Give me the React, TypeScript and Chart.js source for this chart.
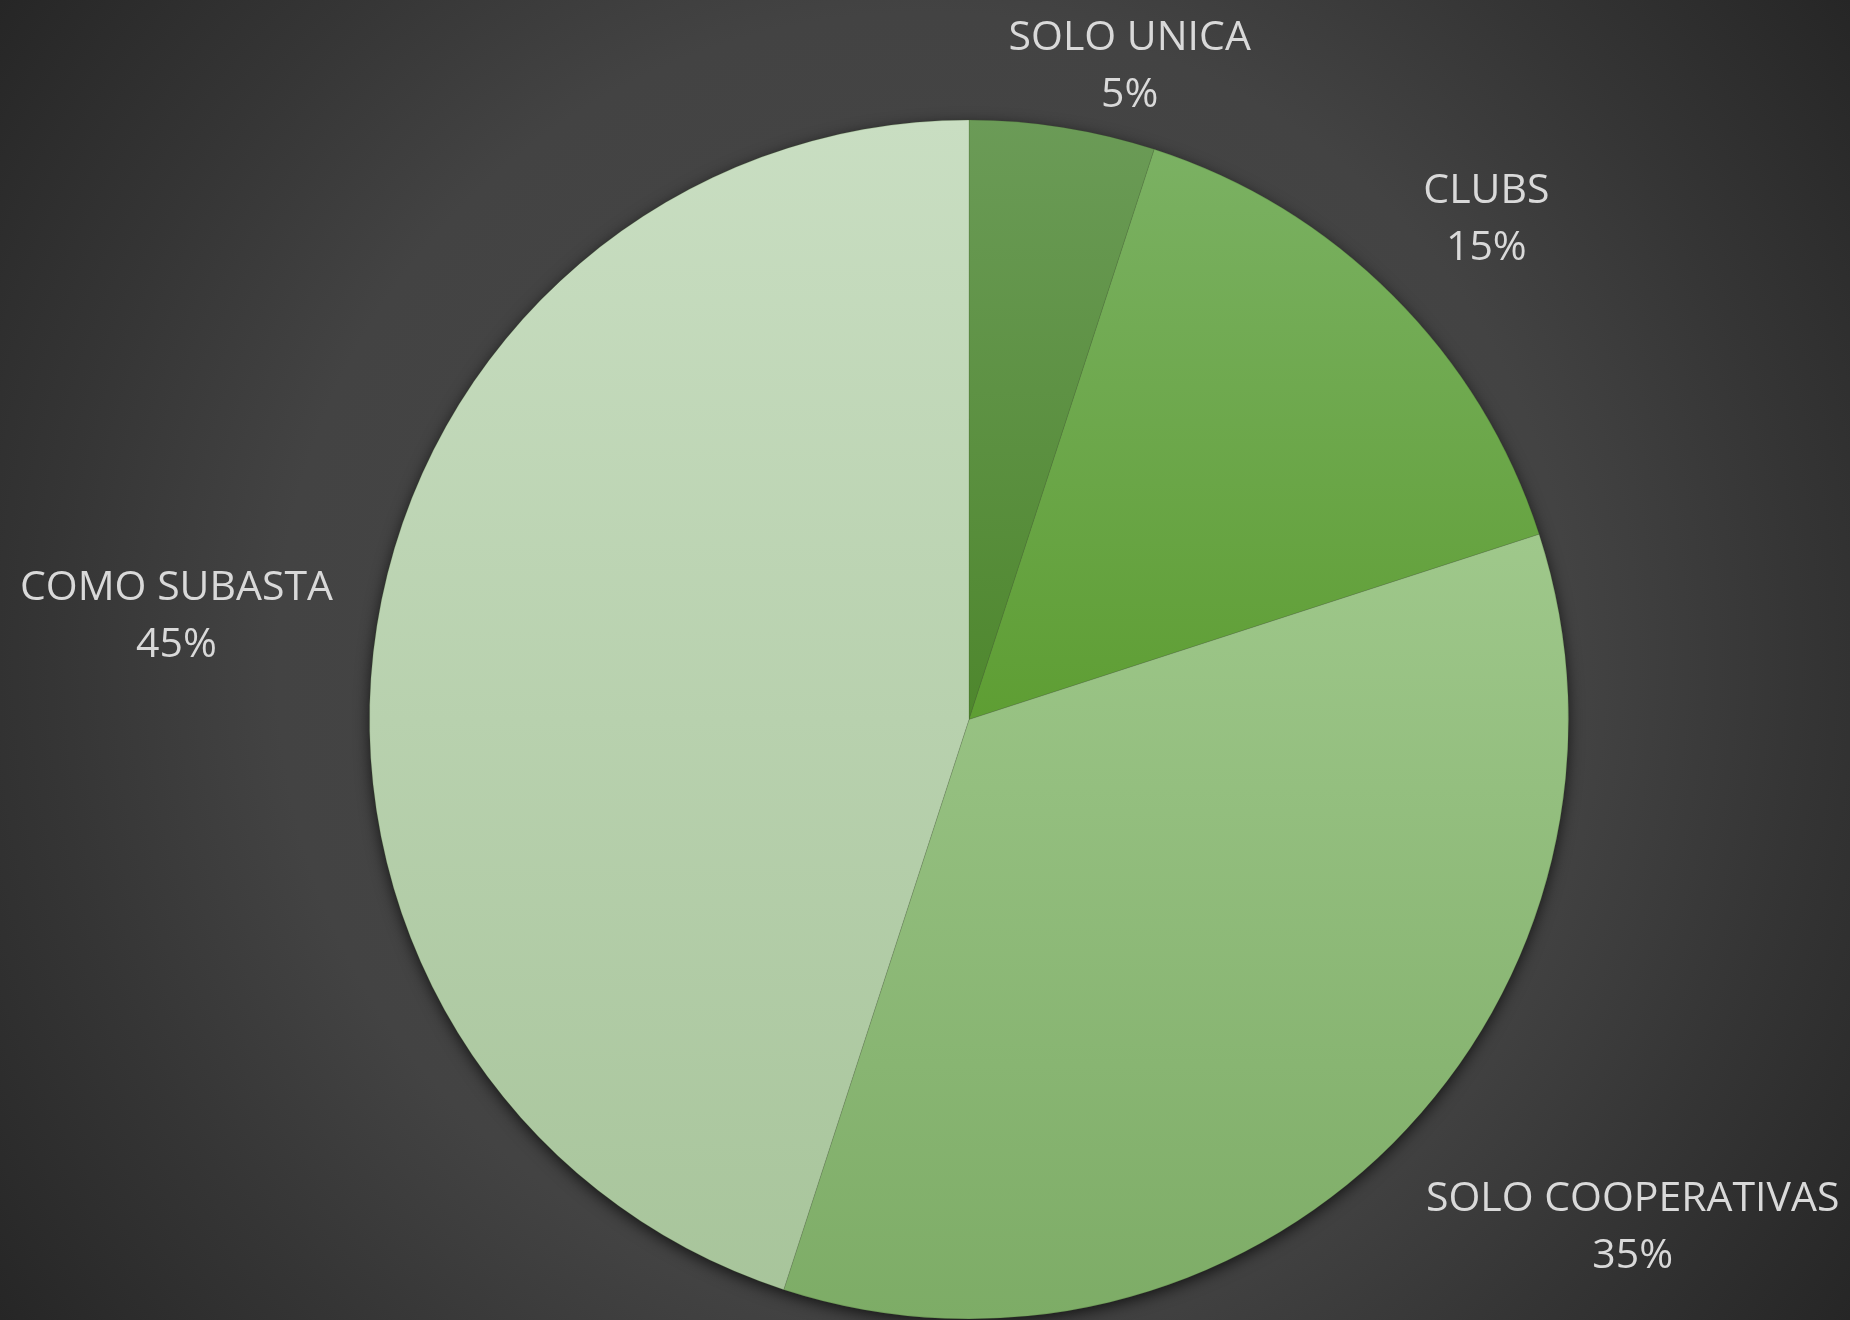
import React, { useEffect, useRef } from "react";
import { Chart, registerables } from "chart.js";

Chart.register(...registerables);

const categories = ["SOLO UNICA", "CLUBS", "SOLO COOPERATIVAS", "COMO SUBASTA"];
const shares = [5, 15, 35, 45];

// gradient colours per slice: [top, bottom] and vertical extent in radius units
const sliceTopColors = ["#6b9b57", "#7bb163", "#9fc88b", "#c9dec2"];
const sliceBottomColors = ["#4e872d", "#5e9e33", "#7dac66", "#a7c49a"];
const sliceGradTop = [-1, -0.95, -0.31, -1];
const sliceGradBottom = [0, 0, 1, 1];

// label placement relative to pie centre, in radius units
const labelDx = [0.268, 0.863, 1.107, -1.322];
const labelDy = [-1.095, -0.84, 0.842, -0.177];

const W = 1850;
const H = 1320;

function geom(chart: any) {
  const a = chart.chartArea;
  const cx = (a.left + a.right) / 2;
  const cy = (a.top + a.bottom) / 2;
  const r = Math.min(a.right - a.left, a.bottom - a.top) / 2;
  return { cx, cy, r };
}

const shadowPlugin = {
  id: "pieShadow",
  beforeDatasetsDraw(chart: any) {
    const meta = chart.getDatasetMeta(0);
    const arc = meta.data[0];
    if (!arc) return;
    const ctx = chart.ctx;
    ctx.save();
    ctx.beginPath();
    ctx.arc(arc.x, arc.y, arc.outerRadius - 1, 0, Math.PI * 2);
    ctx.shadowColor = "rgba(0,0,0,0.75)";
    ctx.shadowBlur = 16;
    ctx.shadowOffsetY = 4;
    ctx.fillStyle = "#444";
    ctx.fill();
    ctx.restore();
  },
};

const labelPlugin = {
  id: "sliceLabels",
  afterDatasetsDraw(chart: any) {
    const meta = chart.getDatasetMeta(0);
    const ctx = chart.ctx;
    const data = chart.data.datasets[0].data as number[];
    const total = data.reduce((s, v) => s + v, 0);
    ctx.save();
    ctx.fillStyle = "#d9d9d9";
    ctx.font = '41px "Open Sans", sans-serif';
    ctx.textAlign = "center";
    ctx.textBaseline = "middle";
    meta.data.forEach((arc: any, i: number) => {
      const r = arc.outerRadius;
      const x = arc.x + labelDx[i] * r;
      const y = arc.y + labelDy[i] * r + 3;
      const pct = Math.round((data[i] / total) * 100) + "%";
      ctx.fillText(chart.data.labels[i], x, y - 28);
      ctx.fillText(pct, x, y + 29);
    });
    ctx.restore();
  },
};

export default function App() {
  const ref = useRef<HTMLCanvasElement | null>(null);
  useEffect(() => {
    if (!ref.current) return;
    const chart = new Chart(ref.current, {
      type: "pie",
      data: {
        labels: categories,
        datasets: [
          {
            data: shares,
            backgroundColor: (ctx: any) => {
              const chart = ctx.chart;
              if (!chart.chartArea) return sliceTopColors[ctx.dataIndex];
              const { cy, r } = geom(chart);
              const i = ctx.dataIndex;
              const g = chart.ctx.createLinearGradient(0, cy + sliceGradTop[i] * r, 0, cy + sliceGradBottom[i] * r);
              g.addColorStop(0, sliceTopColors[i]);
              g.addColorStop(1, sliceBottomColors[i]);
              return g;
            },
            borderColor: "rgba(60,90,40,0.2)",
            borderWidth: 1,
          },
        ],
      },
      options: {
        responsive: false,
        animation: false,
        devicePixelRatio: 1,
        layout: { padding: { left: 369, right: 281, top: 119, bottom: 0 } },
        plugins: {
          legend: { display: false },
          tooltip: { enabled: false },
          title: { display: false },
        },
      },
      plugins: [shadowPlugin, labelPlugin],
    });
    return () => chart.destroy();
  }, []);
  return (
    <div
      style={{
        position: "absolute",
        left: 0,
        top: 0,
        width: W,
        height: H,
        overflow: "hidden",
        background:
          "radial-gradient(circle 1136px at 925px 660px, #474747 0%, #444444 45%, #434343 57%, #353535 77%, #262626 100%)",
      }}
    >
      <canvas ref={ref} width={W} height={H} style={{ display: "block", width: W, height: H }} />
    </div>
  );
}
